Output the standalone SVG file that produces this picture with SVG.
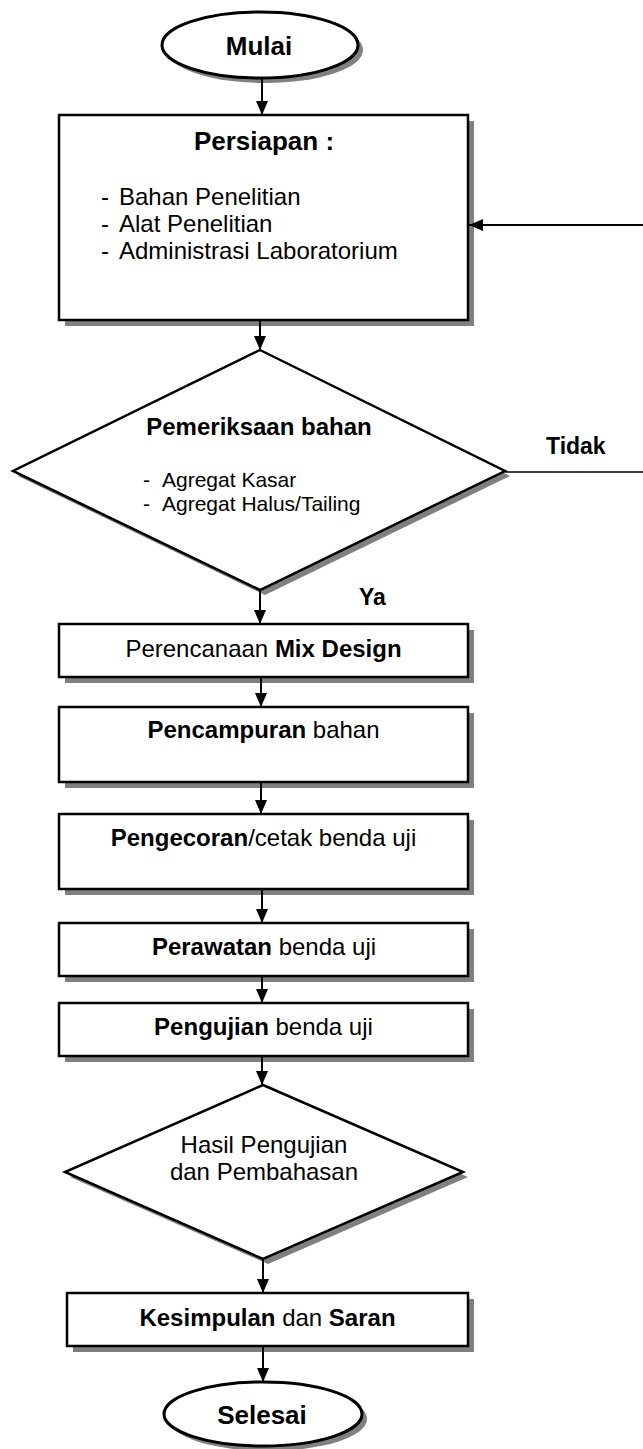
<svg xmlns="http://www.w3.org/2000/svg" width="643" height="1449" viewBox="0 0 643 1449">
<defs>
<marker id="ah" markerWidth="14" markerHeight="12" refX="14" refY="6" orient="auto" markerUnits="userSpaceOnUse">
<path d="M0,0 L14,6 L0,12 Z" fill="#000"/>
</marker>
</defs>
<style>
.sh{fill:#808080;stroke:none}
.box{fill:#fff;stroke:#000;stroke-width:2.5}
.term{fill:#fff;stroke:#000;stroke-width:3}
.t{font-family:"Liberation Sans",Arial,Helvetica,sans-serif;font-size:24px;fill:#000}
.b{font-weight:bold}
.c{text-anchor:middle}
.big{font-size:26px}
.sm{font-size:21px}
.lbl{font-size:23px}
.con{stroke:#000;stroke-width:2;fill:none}
</style>
<rect width="643" height="1449" fill="#fff"/>

<g id="mulai">
<ellipse class="sh" cx="265" cy="50" rx="98" ry="33"/>
<ellipse class="term" cx="260" cy="45" rx="98" ry="33"/>
<text class="t b c big" x="259" y="55">Mulai</text>
</g>

<g id="persiapan">
<rect class="sh" x="65" y="121" width="409" height="205"/>
<rect class="box" x="59" y="115" width="409" height="205"/>
<text class="t b c big" x="264" y="150">Persiapan :</text>
<text class="t" x="101" y="205">-</text><text class="t" x="119" y="205">Bahan Penelitian</text>
<text class="t" x="101" y="232">-</text><text class="t" x="119" y="232">Alat Penelitian</text>
<text class="t" x="101" y="259">-</text><text class="t" x="119" y="259">Administrasi Laboratorium</text>
</g>

<g id="pemeriksaan">
<polygon class="sh" points="265,355 510,476 265,595 18,476"/>
<polygon class="box" points="260,350 505,471 260,590 13,471"/>
<text class="t b c" x="259" y="435">Pemeriksaan bahan</text>
<text class="t sm" x="143" y="487">-</text><text class="t sm" x="162" y="487">Agregat Kasar</text>
<text class="t sm" x="143" y="511">-</text><text class="t sm" x="162" y="511">Agregat Halus/Tailing</text>
</g>

<g id="mixdesign">
<rect class="sh" x="65" y="630" width="409" height="53"/>
<rect class="box" x="59" y="624" width="409" height="53"/>
<text class="t c" x="263.5" y="657">Perencanaan <tspan class="b">Mix Design</tspan></text>
</g>

<g id="pencampuran">
<rect class="sh" x="65" y="713" width="409" height="75"/>
<rect class="box" x="59" y="707" width="409" height="75"/>
<text class="t c" x="263.5" y="738"><tspan class="b">Pencampuran</tspan> bahan</text>
</g>

<g id="pengecoran">
<rect class="sh" x="65" y="820" width="409" height="75"/>
<rect class="box" x="59" y="814" width="409" height="75"/>
<text class="t c" x="263.5" y="846"><tspan class="b">Pengecoran</tspan>/cetak benda uji</text>
</g>

<g id="perawatan">
<rect class="sh" x="65" y="929" width="409" height="53"/>
<rect class="box" x="59" y="923" width="409" height="53"/>
<text class="t c" x="264" y="955"><tspan class="b">Perawatan</tspan> benda uji</text>
</g>

<g id="pengujian">
<rect class="sh" x="65" y="1009" width="409" height="53"/>
<rect class="box" x="59" y="1003" width="409" height="53"/>
<text class="t c" x="263.5" y="1035"><tspan class="b">Pengujian</tspan> benda uji</text>
</g>

<g id="hasil">
<polygon class="sh" points="268,1090 468,1177 268,1264 70,1177"/>
<polygon class="box" points="263,1085 463,1172 263,1259 65,1172"/>
<text class="t c" x="264" y="1153">Hasil Pengujian</text>
<text class="t c" x="264" y="1180">dan Pembahasan</text>
</g>

<g id="kesimpulan">
<rect class="sh" x="73" y="1299" width="401" height="53"/>
<rect class="box" x="67" y="1293" width="401" height="53"/>
<text class="t c" x="267.5" y="1326"><tspan class="b">Kesimpulan</tspan> dan <tspan class="b">Saran</tspan></text>
</g>

<g id="selesai">
<ellipse class="sh" cx="268" cy="1419" rx="99" ry="32"/>
<ellipse class="term" cx="263" cy="1414" rx="99" ry="32"/>
<text class="t b c big" x="262" y="1424">Selesai</text>
</g>

<g id="connectors">
<line class="con" x1="262" y1="79" x2="262" y2="115" marker-end="url(#ah)"/>
<line class="con" x1="260" y1="321" x2="260" y2="350" marker-end="url(#ah)"/>
<line class="con" x1="260" y1="590" x2="260" y2="624" marker-end="url(#ah)"/>
<line class="con" x1="261" y1="678" x2="261" y2="707" marker-end="url(#ah)"/>
<line class="con" x1="261" y1="783" x2="261" y2="814" marker-end="url(#ah)"/>
<line class="con" x1="262" y1="890" x2="262" y2="923" marker-end="url(#ah)"/>
<line class="con" x1="262" y1="977" x2="262" y2="1003" marker-end="url(#ah)"/>
<line class="con" x1="262" y1="1057" x2="262" y2="1085" marker-end="url(#ah)"/>
<line class="con" x1="263" y1="1259" x2="263" y2="1293" marker-end="url(#ah)"/>
<line class="con" x1="263" y1="1347" x2="263" y2="1382" marker-end="url(#ah)"/>
<line class="con" x1="505" y1="472" x2="643" y2="472" style="stroke-width:1.5"/>
<line class="con" x1="643" y1="225" x2="469" y2="225" marker-end="url(#ah)"/>
<text class="t b lbl" x="546" y="454">Tidak</text>
<text class="t b lbl" x="359" y="605">Ya</text>
</g>
</svg>
